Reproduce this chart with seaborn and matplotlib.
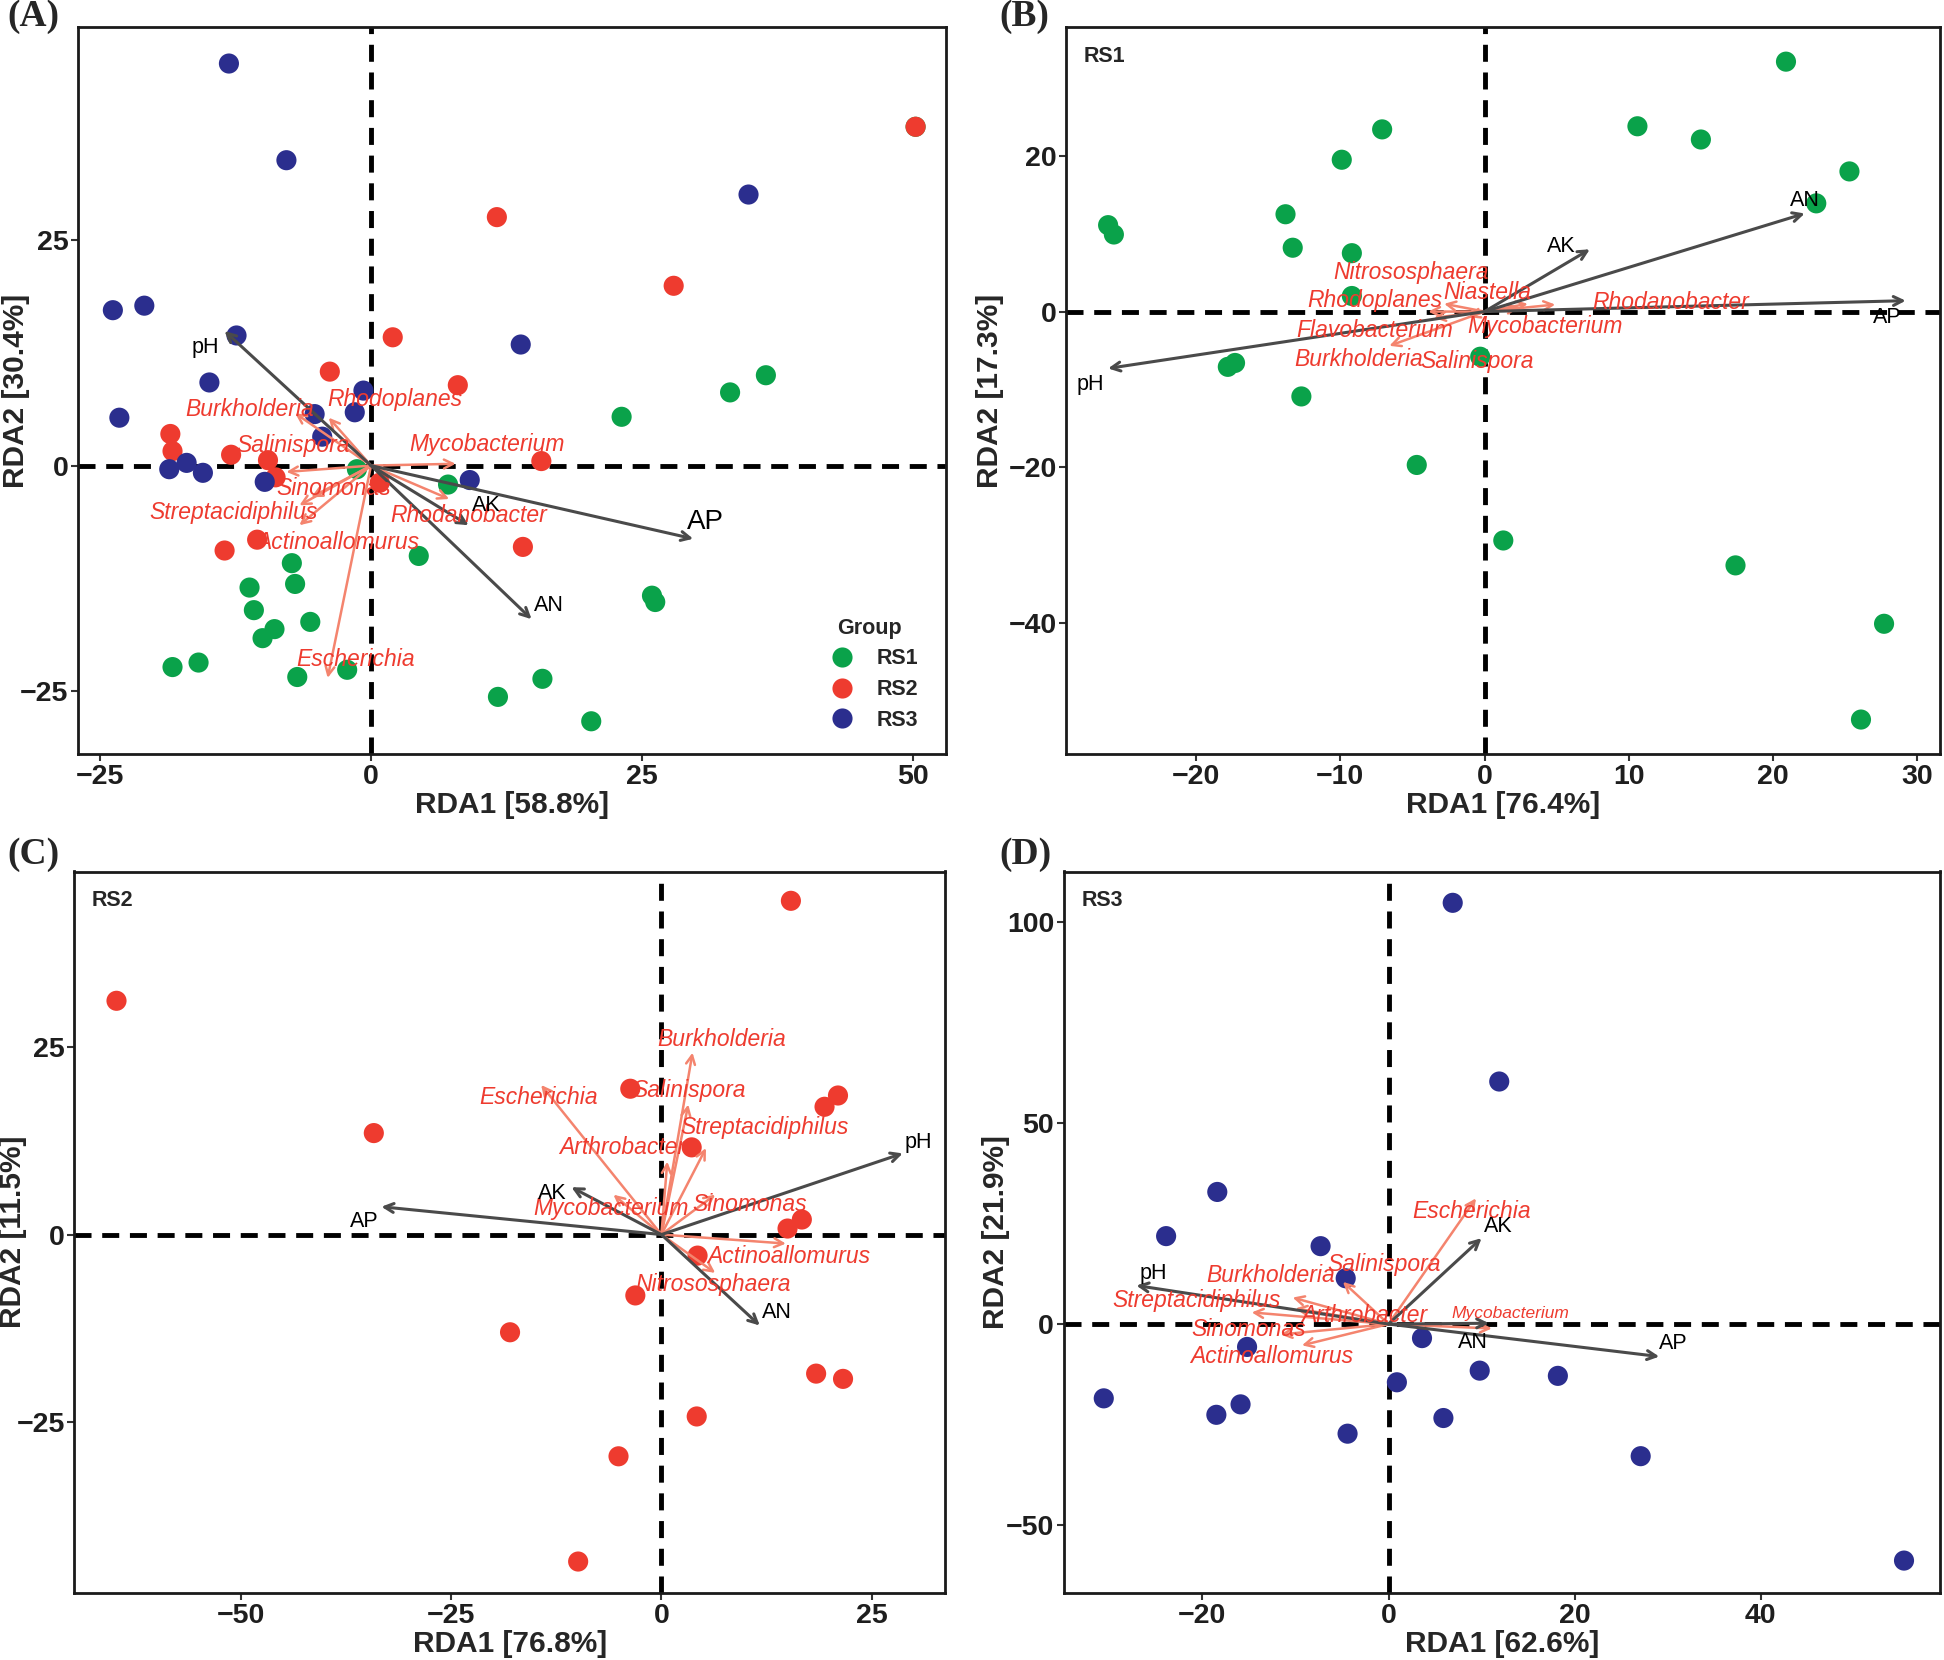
import matplotlib
matplotlib.use("Agg")
import matplotlib.pyplot as plt
import seaborn as sns
import pandas as pd

# ---------------- data ----------------
# Panel A: all groups
a_rs1_x = [36.4, 33.1, 23.1, -1.3, 7.1, 4.4, -7.3, -7.0, -11.2, -10.8, -8.9, -10.0, -5.6, -18.3, -15.9, -6.8, -2.2, 25.9, 26.2, 15.8, 11.7, 20.3, 50.2]
a_rs1_y = [10.0, 8.1, 5.4, -0.4, -2.1, -10.0, -10.8, -13.1, -13.5, -16.0, -18.1, -19.1, -17.3, -22.3, -21.8, -23.4, -22.6, -14.4, -15.1, -23.6, -25.6, -28.3, 37.5]
a_rs2_x = [50.2, 11.6, 27.9, 2.0, -3.8, 8.0, -18.5, -18.3, -12.9, -9.5, -8.8, 15.7, 0.8, -10.5, -13.5, 14.0]
a_rs2_y = [37.5, 27.5, 19.9, 14.2, 10.4, 8.9, 3.5, 1.6, 1.2, 0.6, -1.3, 0.5, -1.9, -8.2, -9.4, -9.0]
a_rs3_x = [-13.1, -7.8, 34.8, -23.8, -20.9, -12.4, 13.8, -14.9, -0.7, -23.2, -5.2, -1.5, -4.5, -18.6, -17.0, -15.5, -9.8, 9.1]
a_rs3_y = [44.5, 33.8, 30.0, 17.2, 17.7, 14.4, 13.4, 9.2, 8.3, 5.3, 5.7, 5.9, 3.2, -0.4, 0.3, -0.8, -1.8, -1.6]

a_env = ["pH", "AK", "AP", "AN"]
a_env_x = [-13.5, 9.0, 29.7, 14.8]
a_env_y = [14.9, -6.6, -8.1, -17.0]
a_env_lx = [-15.3, 10.6, 30.8, 16.4]
a_env_ly = [13.1, -4.4, -6.2, -15.5]

a_sp = ["Burkholderia", "Rhodoplanes", "Salinispora", "Mycobacterium", "Sinomonas",
        "Streptacidiphilus", "Rhodanobacter", "Actinoallomurus", "Escherichia"]
a_sp_x = [-7.0, -3.9, -7.8, 7.8, -5.5, -6.6, 7.2, -6.6, -4.0]
a_sp_y = [5.8, 5.3, -0.7, 0.2, -3.5, -4.4, -3.7, -6.6, -23.5]
a_sp_lx = [-11.2, 2.2, -7.2, 10.7, -3.4, -12.7, 9.0, -3.1, -1.4]
a_sp_ly = [6.2, 7.3, 2.2, 2.3, -2.5, -5.2, -5.5, -8.5, -21.5]

# Panel B: RS1
b_x = [20.9, -7.1, 10.6, 15.0, -9.9, 25.3, 23.0, -26.1, -25.7, -13.8, -13.3, -9.2, -9.2, -0.3, -17.8, -17.3, -12.7, -4.7, 1.3, 17.4, 27.7, 26.1]
b_y = [32.1, 23.4, 23.8, 22.1, 19.5, 18.0, 13.9, 11.1, 9.9, 12.5, 8.2, 7.5, 2.0, -5.8, -7.1, -6.6, -10.9, -19.7, -29.4, -32.6, -40.1, -52.4]

b_env = ["AN", "AK", "AP", "pH"]
b_env_x = [22.2, 7.3, 29.2, -26.1]
b_env_y = [12.6, 8.0, 1.4, -7.3]
b_env_lx = [22.2, 5.3, 27.9, -27.3]
b_env_ly = [14.3, 8.3, -0.7, -9.4]

b_sp = ["Nitrososphaera", "Niastella", "Rhodoplanes", "Rhodanobacter",
        "Flavobacterium", "Mycobacterium", "Burkholderia", "Salinispora"]
b_sp_x = [-2.8, 3.0, -3.9, 4.9, -3.5, 2.4, -6.6, -1.1]
b_sp_y = [1.0, 1.0, 0.0, 0.9, -0.8, 0.5, -4.4, -0.7]
b_sp_lx = [-5.1, 0.2, -7.6, 12.9, -7.6, 4.2, -8.7, -0.5]
b_sp_ly = [5.0, 2.5, 1.4, 1.2, -2.4, -1.9, -6.2, -6.4]

# Panel C: RS2
c_x = [15.4, -64.8, -34.2, -3.7, 21.0, 19.4, 3.6, 16.7, 15.0, 4.3, -3.1, -18.0, 18.4, 21.6, 4.2, -5.1, -9.9]
c_y = [44.4, 31.1, 13.5, 19.4, 18.5, 17.0, 11.6, 2.0, 0.8, -2.8, -8.1, -13.0, -18.5, -19.2, -24.2, -29.5, -43.5]

c_env = ["pH", "AK", "AP", "AN"]
c_env_x = [28.7, -10.7, -33.3, 11.7]
c_env_y = [10.8, 6.3, 3.7, -12.1]
c_env_lx = [30.6, -13.0, -35.3, 13.7]
c_env_ly = [12.3, 5.5, 1.8, -10.4]

c_sp = ["Burkholderia", "Salinispora", "Escherichia", "Streptacidiphilus", "Arthrobacter",
        "Mycobacterium", "Sinomonas", "Actinoallomurus", "Nitrososphaera"]
c_sp_x = [3.7, 3.2, -14.3, 5.3, 0.7, -5.7, 6.4, 14.8, 6.4]
c_sp_y = [24.2, 17.3, 19.9, 11.5, 9.7, 5.3, 5.3, -1.2, -5.1]
c_sp_lx = [7.2, 3.3, -14.6, 12.3, -4.7, -6.0, 10.5, 15.1, 6.2]
c_sp_ly = [25.9, 19.2, 18.2, 14.2, 11.6, 3.5, 4.0, -2.9, -6.7]

# Panel D: RS3
d_x = [6.9, 11.9, -18.4, -23.9, -7.3, -4.6, -15.2, 3.6, -30.6, -18.5, -15.9, -4.4, 0.9, 5.9, 9.8, 18.2, 27.1, 55.4]
d_y = [104.9, 60.4, 32.9, 21.9, 19.4, 11.4, -5.7, -3.5, -18.5, -22.6, -20.0, -27.3, -14.5, -23.4, -11.6, -12.9, -32.9, -58.9]

d_env = ["pH", "AK", "AP", "AN"]
d_env_x = [-27.1, 10.0, 29.1, 10.8]
d_env_y = [9.6, 21.4, -8.1, 0.2]
d_env_lx = [-25.3, 11.8, 30.6, 9.1]
d_env_ly = [12.7, 24.3, -4.9, -4.6]

d_sp = ["Escherichia", "Salinispora", "Burkholderia", "Streptacidiphilus", "Arthrobacter",
        "Mycobacterium", "Sinomonas", "Actinoallomurus"]
d_sp_x = [9.4, -10.3, -4.9, -14.7, -10.0, 11.1, -11.6, -9.3]
d_sp_y = [31.3, 6.6, 10.5, 2.9, 3.9, -1.1, -2.6, -5.3]
d_sp_lx = [8.9, -0.5, -12.7, -20.6, -2.6, 13.1, -15.0, -12.6]
d_sp_ly = [28.0, 14.8, 12.1, 5.8, 2.2, 2.6, -1.4, -8.2]

# ---------------- style ----------------
sns.set_theme(style="white")
plt.rcParams["font.family"] = ["Liberation Sans", "DejaVu Sans"]

palette = {"RS1": "#0AA24A", "RS2": "#EE3B2F", "RS3": "#2B2E8E"}
env_col = "#4A4A4A"
arrow_col = "#F4846E"
sp_col = "#EE3B2F"
dash = (0, (3.5, 2.2))

fig = plt.figure(figsize=(19.44, 16.6), dpi=100)
ax_a = fig.add_axes([0.0402, 0.5459, 0.4464, 0.4376])
ax_b = fig.add_axes([0.5485, 0.5459, 0.4496, 0.4376])
ax_c = fig.add_axes([0.0383, 0.0403, 0.4477, 0.4347])
ax_d = fig.add_axes([0.5472, 0.0403, 0.4509, 0.4347])


def draw_arrows(ax, xs, ys, col, lw):
    for x, y in zip(xs, ys):
        ax.annotate("", xy=(x, y), xytext=(0, 0),
                    arrowprops=dict(arrowstyle="->", color=col, lw=lw,
                                    mutation_scale=16, shrinkA=0, shrinkB=0),
                    zorder=4)


def panel(ax, df, env, ex, ey, elx, ely, sp, sx, sy, slx, sly,
          xlim, ylim, xticks, yticks, xlab, ylab, tag, ylab_x, legend=False, ap_big=False,
          small=()):
    sns.scatterplot(data=df, x="RDA1", y="RDA2", hue="Group", palette=palette,
                    s=210, edgecolor="none", linewidth=0, ax=ax, legend=legend, zorder=3)
    ax.axhline(0, color="black", lw=3.5, ls=dash, zorder=2)
    ax.axvline(0, color="black", lw=3.5, ls=dash, zorder=2)
    draw_arrows(ax, sx, sy, arrow_col, 1.8)
    draw_arrows(ax, ex, ey, env_col, 2.2)
    for name, x, y in zip(sp, slx, sly):
        ax.text(x, y, name, color=sp_col, style="italic", fontsize=12.5 if name in small else 16.5,
                ha="center", va="center", zorder=5)
    for name, x, y in zip(env, elx, ely):
        fs = 20 if (ap_big and name == "AP") else 15.5
        ax.text(x, y, name, color="black", fontsize=fs, ha="center", va="center", zorder=5)
    ax.set_xlim(*xlim)
    ax.set_ylim(*ylim)
    ax.set_xticks(xticks)
    ax.set_yticks(yticks)
    ax.set_xticklabels([str(t).replace("-", "\u2212") for t in xticks])
    ax.set_yticklabels([str(t).replace("-", "\u2212") for t in yticks])
    ax.tick_params(axis="both", labelsize=20.5, length=5, width=1.5, color="#333333",
                   labelcolor="#1E1E1E", direction="out", bottom=True, left=True, pad=2)
    for lab in ax.get_xticklabels() + ax.get_yticklabels():
        lab.set_fontweight("bold")
    ax.set_xlabel(xlab, fontsize=21.5, fontweight="bold", labelpad=1)
    ax.set_ylabel(ylab, fontsize=21.5, fontweight="bold")
    ax.yaxis.set_label_coords(ylab_x, 0.5)
    for s in ax.spines.values():
        s.set_color("#1A1A1A")
        s.set_linewidth(2)
    if tag:
        ax.text(0.02, 0.975, tag, transform=ax.transAxes, fontsize=15.5, fontweight="bold",
                ha="left", va="top")


df_a = pd.concat([
    pd.DataFrame({"RDA1": a_rs1_x, "RDA2": a_rs1_y, "Group": "RS1"}),
    pd.DataFrame({"RDA1": a_rs2_x, "RDA2": a_rs2_y, "Group": "RS2"}),
    pd.DataFrame({"RDA1": a_rs3_x, "RDA2": a_rs3_y, "Group": "RS3"}),
], ignore_index=True)
df_b = pd.DataFrame({"RDA1": b_x, "RDA2": b_y, "Group": "RS1"})
df_c = pd.DataFrame({"RDA1": c_x, "RDA2": c_y, "Group": "RS2"})
df_d = pd.DataFrame({"RDA1": d_x, "RDA2": d_y, "Group": "RS3"})

panel(ax_a, df_a, a_env, a_env_x, a_env_y, a_env_lx, a_env_ly,
      a_sp, a_sp_x, a_sp_y, a_sp_lx, a_sp_ly,
      (-27.0, 53.0), (-31.9, 48.5), [-25, 0, 25, 50], [-25, 0, 25],
      "RDA1 [58.8%]", "RDA2 [30.4%]", None, -0.056, legend=True, ap_big=True)
panel(ax_b, df_b, b_env, b_env_x, b_env_y, b_env_lx, b_env_ly,
      b_sp, b_sp_x, b_sp_y, b_sp_lx, b_sp_ly,
      (-29.0, 31.6), (-56.8, 36.5), [-20, -10, 0, 10, 20, 30], [-40, -20, 0, 20],
      "RDA1 [76.4%]", "RDA2 [17.3%]", "RS1", -0.071)
panel(ax_c, df_c, c_env, c_env_x, c_env_y, c_env_lx, c_env_ly,
      c_sp, c_sp_x, c_sp_y, c_sp_lx, c_sp_ly,
      (-69.8, 33.7), (-47.7, 48.3), [-50, -25, 0, 25], [-25, 0, 25],
      "RDA1 [76.8%]", "RDA2 [11.5%]", "RS2", -0.054)
panel(ax_d, df_d, d_env, d_env_x, d_env_y, d_env_lx, d_env_ly,
      d_sp, d_sp_x, d_sp_y, d_sp_lx, d_sp_ly,
      (-34.9, 59.3), (-67.0, 112.7), [-20, 0, 20, 40], [-50, 0, 50, 100],
      "RDA1 [62.6%]", "RDA2 [21.9%]", "RS3", -0.061, small=("Mycobacterium",))

leg = ax_a.legend(title="Group", loc="lower right", bbox_to_anchor=(0.99, 0.005),
                  frameon=False, fontsize=15.5, title_fontsize=15.5, markerscale=1.0,
                  handletextpad=0.6, labelspacing=0.45)
leg.get_title().set_fontweight("bold")
for t in leg.get_texts():
    t.set_fontweight("bold")

for lab, x, y in [("(A)", 0.004, 0.99), ("(B)", 0.514, 0.99),
                  ("(C)", 0.004, 0.485), ("(D)", 0.514, 0.485)]:
    fig.text(x, y, lab, fontsize=27, fontweight="bold", family="Liberation Serif",
             ha="left", va="center")

fig.savefig("out.png", dpi=100)
